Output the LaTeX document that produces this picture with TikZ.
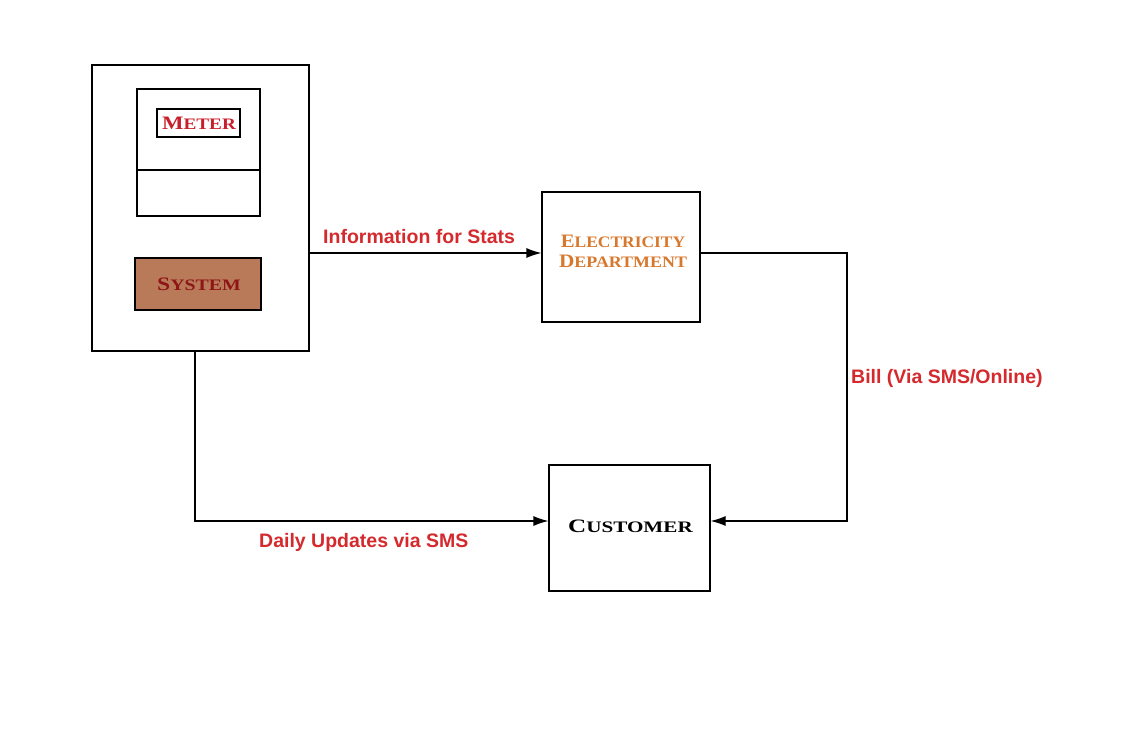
\documentclass[tikz,border=0pt]{standalone}
\usepackage{fontspec}
\setmainfont{Liberation Serif}
\newfontfamily\labfont{Liberation Sans}
\usetikzlibrary{arrows.meta}
\definecolor{labred}{HTML}{D42A2E}
\definecolor{meterred}{HTML}{C8202A}
\definecolor{sysred}{HTML}{8E1616}
\definecolor{sysfill}{HTML}{B97A5A}
\definecolor{deptorange}{HTML}{D8782C}
\newcommand{\mysc}[3][1.25]{\scalebox{#1}[1]{{\fontsize{19}{20}\selectfont #2}{\fontsize{16}{20}\selectfont #3}}}
\tikzset{
  box/.style={draw=black, line width=1.2pt, inner sep=0pt},
  conn/.style={draw=black, line width=1.2pt},
  arr/.style={conn, -{Latex[length=15pt,width=10pt]}},
  lab/.style={text=labred, font=\labfont\bfseries\fontsize{19.5}{22}\selectfont, inner sep=0pt},
  head/.style={inner sep=0pt, font=\bfseries\fontsize{16}{20}\selectfont},
}
\begin{document}
\begin{tikzpicture}[x=1pt,y=-1pt]
\useasboundingbox (0,0) rectangle (1140,729);
\fill[white] (0,0) rectangle (1140,729);
% outer unit
\node[box, minimum width=217pt, minimum height=286pt] (unit) at (200.5,208) {};
\node[box, minimum width=123pt, minimum height=127pt] (meter) at (198.5,152.5) {};
\draw[conn] (meter.west |- 0,170) -- (meter.east |- 0,170);
\node[box, minimum width=83pt, minimum height=28pt] (meterlab) at (198.5,123) {};
\node[head, text=meterred] (metertext) at (199,123.5) {\mysc[1.2]{M}{ETER}};
\node[box, fill=sysfill, minimum width=126pt, minimum height=52pt] (sys) at (198,284) {};
\node[head, text=sysred] (systext) at (199,284) {\mysc[1.24]{S}{YSTEM}};
% department
\node[box, minimum width=158pt, minimum height=130pt] (dept) at (621,257) {};
\node[head, text=deptorange, align=center] (depttext) at (623,251) {\mysc[1.09]{E}{LECTRICITY}\\\mysc[1.12]{D}{EPARTMENT}};
% customer
\node[box, minimum width=161pt, minimum height=126pt] (cust) at (629.5,528) {};
\node[head, text=black] (custtext) at (630.5,526) {\mysc[1.32]{C}{USTOMER}};
% connectors
\coordinate (c1) at (847,253);
\coordinate (c2) at (847,521);
\coordinate (c3) at (195,521);
\draw[arr] (unit.east |- 0,253) -- (dept.west |- 0,253);
\draw[arr] (dept.east |- 0,253) -- (c1) -- (c2) -- (cust.east |- 0,521);
\draw[arr] (unit.south -| c3) -- (c3) -- (cust.west |- 0,521);
% labels
\node[lab, anchor=base west] (l1) at (323,243) {Information for Stats};
\node[lab, anchor=base west] (l2) at (851,383) {Bill (Via SMS/Online)};
\node[lab, anchor=base west] (l3) at (259,547) {Daily Updates via SMS};
\end{tikzpicture}
\end{document}
